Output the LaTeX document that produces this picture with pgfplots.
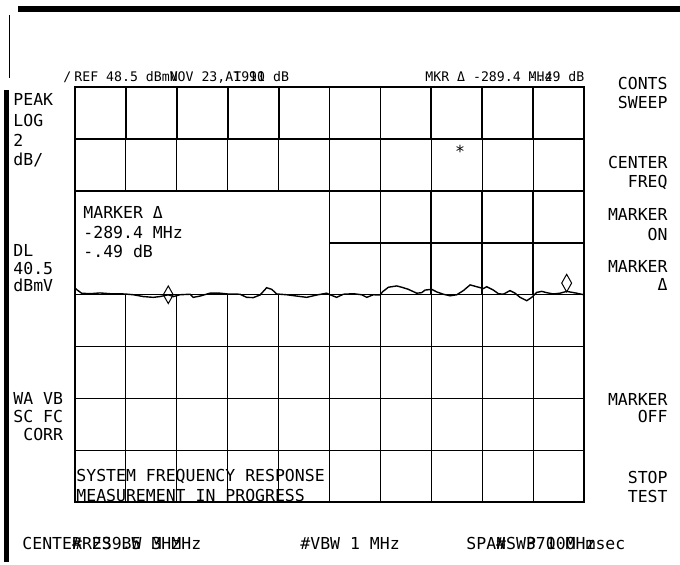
\documentclass[border=0pt]{standalone}
\usepackage{fontspec}
\setmainfont{DejaVu Sans Mono}
\usepackage{pgfplots}
\pgfplotsset{compat=1.18}
\newcommand{\hp}{\fontsize{8.25}{9}\selectfont}
\newcommand{\hps}{\fontsize{6.6}{8}\selectfont}

\begin{document}
\begin{tikzpicture}
% screen frame, in pixel units of the 680x565 capture
\begin{scope}[x=0.5pt,y=-0.5pt]
  \path (0,0) rectangle (680,565);
  \coordinate (O) at (75,502);
  \fill (18,6) rectangle (680,12);
  \fill (4,90) rectangle (9,562);
  \draw[line width=0.5pt] (9,15) -- (9,78);
\end{scope}

\begin{axis}[
  at={(O)}, anchor=south west,
  scale only axis,
  width=254.5pt, height=207.5pt,
  xmin=54.5, xmax=424.5,
  ymin=32, ymax=48,
  xtick={54.5,91.5,128.5,165.5,202.5,239.5,276.5,313.5,350.5,387.5,424.5},
  ytick={32,34,36,38,40,42,44,46,48},
  xticklabels={}, yticklabels={},
  major tick length=0pt,
  grid=major,
  major grid style={black, line width=0.45pt},
  axis line style={line width=0.9pt},
  clip=false,
]
  % heavier graticule in parts of the screen
  \foreach \f in {91.5,128.5,165.5,202.5,239.5,276.5,313.5,350.5,387.5}{
    \edef\tmp{\noexpand\draw[line width=0.9pt] (axis cs:\f,48) -- (axis cs:\f,46);}\tmp
  }
  \foreach \f in {276.5,313.5,350.5,387.5}{
    \edef\tmp{\noexpand\draw[line width=0.9pt] (axis cs:\f,44) -- (axis cs:\f,40);}\tmp
  }
  \draw[line width=0.9pt] (axis cs:54.5,46) -- (axis cs:424.5,46);
  \draw[line width=0.9pt] (axis cs:54.5,44) -- (axis cs:424.5,44);
  \draw[line width=0.9pt] (axis cs:239.5,42) -- (axis cs:424.5,42);
  % marker readout box hides the grid behind it
  \fill[white] (axis cs:54.5,44) rectangle (axis cs:239.5,40);
  \draw[line width=0.9pt] (axis cs:54.5,44) -- (axis cs:239.5,44) -- (axis cs:239.5,40);
  \draw[line width=0.9pt] (axis cs:54.5,44) -- (axis cs:54.5,40);
  \draw[line width=0.9pt] (axis cs:54.5,40) -- (axis cs:424.5,40);

  % swept response trace (dBmV vs MHz)
  \addplot[black, line width=0.7pt] coordinates {
    (54.5,40.25) (56.2,40.17) (59.3,40.05) (65.4,40.03) (72.7,40.06) (79.9,40.03)
    (90.8,40.02) (96.9,39.99) (104.2,39.92) (111.4,39.89) (116.3,39.92) (122.3,39.99)
    (126.0,39.92) (130.8,39.99) (138.1,40.01) (140.5,39.89) (145.4,39.94) (152.6,40.05)
    (159.9,40.05) (165.5,40.02) (174.4,40.01) (179.3,39.89) (184.1,39.88) (189.0,39.98)
    (193.8,40.26) (197.5,40.20) (201.1,40.02) (208.4,39.99) (215.6,39.94) (222.9,39.89)
    (230.2,39.98) (237.4,40.05) (239.9,39.99) (244.7,39.89) (249.6,40.01) (256.9,40.03)
    (262.9,39.99) (266.6,39.89) (271.4,39.99) (276.2,39.98) (278.2,40.11) (282.3,40.28)
    (288.4,40.33) (292.0,40.28) (296.8,40.20) (302.9,40.05) (306.5,40.07) (309.0,40.17)
    (313.8,40.20) (317.4,40.10) (322.3,40.01) (327.1,39.95) (332.0,39.99) (336.8,40.15)
    (341.7,40.37) (346.5,40.30) (351.4,40.23) (353.8,40.30) (358.6,40.17) (362.3,40.03)
    (365.9,40.01) (370.7,40.15) (374.4,40.05) (378.0,39.89) (382.9,39.76) (386.5,39.89)
    (390.1,40.08) (393.8,40.12) (397.4,40.07) (402.2,40.02) (407.1,40.05) (411.9,40.12)
    (419.2,40.05) (424.5,39.99)
  };
  % markers
  \addplot[only marks, mark=diamond, mark size=4.4pt,
    mark options={xscale=0.75, draw=black, line width=0.5pt}]
    coordinates {(122.3,39.99) (411.9,40.44)};
  \node[font=\hp, inner sep=0pt] at (axis cs:334.4,45.5) {*};
\end{axis}

\begin{scope}[x=0.5pt,y=-0.5pt, every node/.style={inner sep=0pt, font=\hp}]
  % top annotation line (overprinted)
  \node[anchor=base west, font=\hps] at (63,82) {/};
  \node[anchor=base west, font=\hps] at (74,82) {REF 48.5 dBmV};
  \node[anchor=base west, font=\hps] at (74,82) {~~~~~~~~~~~~NOV 23, 1991};
  \node[anchor=base west, font=\hps] at (74,82) {~~~~~~~~~~~~~~~~~~~AT 10 dB};
  \node[anchor=base west, font=\hps] at (425,82) {MKR Δ -289.4 MHz};
  \node[anchor=base west, font=\hps] at (425,82) {~~~~~~~~~~~~~-.49 dB};
  % left annotations
  \node[anchor=base west] at (13,106) {PEAK};
  \node[anchor=base west] at (13,127) {LOG};
  \node[anchor=base west] at (13,147) {2};
  \node[anchor=base west] at (13,166) {dB/};
  \node[anchor=base west] at (13,257) {DL};
  \node[anchor=base west] at (13,275) {40.5};
  \node[anchor=base west] at (13,292) {dBmV};
  \node[anchor=base west] at (13,405) {WA VB};
  \node[anchor=base west] at (13,423) {SC FC};
  \node[anchor=base west] at (13,441) {~CORR};
  % marker readout
  \node[anchor=base west] at (83,219) {MARKER Δ};
  \node[anchor=base west] at (83,239) {-289.4 MHz};
  \node[anchor=base west] at (83,258) {-.49 dB};
  % status message
  \node[anchor=base west] at (76,482) {SYSTEM FREQUENCY RESPONSE};
  \node[anchor=base west] at (76,502) {MEASUREMENT IN PROGRESS};
  % softkeys
  \node[anchor=base east] at (668,90) {CONTS};
  \node[anchor=base east] at (668,109) {SWEEP};
  \node[anchor=base east] at (668,169) {CENTER};
  \node[anchor=base east] at (668,188) {FREQ};
  \node[anchor=base east] at (668,221) {MARKER};
  \node[anchor=base east] at (668,241) {ON};
  \node[anchor=base east] at (668,273) {MARKER};
  \node[anchor=base east] at (668,291) {Δ};
  \node[anchor=base east] at (668,406) {MARKER};
  \node[anchor=base east] at (668,423) {OFF};
  \node[anchor=base east] at (668,484) {STOP};
  \node[anchor=base east] at (668,503) {TEST};
  % bottom line (overprinted)
  \node[anchor=base west] at (22,550) {CENTER 239.5 MHz};
  \node[anchor=base west] at (22,550) {~~~~~\#RES BW 3 MHz};
  \node[anchor=base west] at (300,550) {\#VBW 1 MHz};
  \node[anchor=base west] at (466,550) {SPAN~~370 MHz};
  \node[anchor=base west] at (466,550) {~~~\#SWP 100 msec};
\end{scope}
\end{tikzpicture}
\end{document}
